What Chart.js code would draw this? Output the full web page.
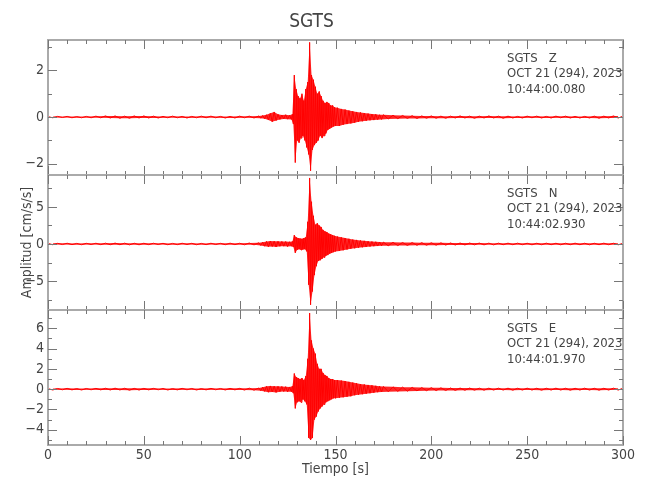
<!DOCTYPE html>
<html>
<head>
<meta charset="utf-8">
<script src="https://cdn.jsdelivr.net/npm/chart.js@4.4.0/dist/chart.umd.min.js"></script>
<style>
  body { margin: 0; background: #fff; overflow: hidden; }
  #wrap { position: relative; width: 650px; height: 500px; }
  canvas { position: absolute; left: 0; }
</style>
</head>
<body>
<div id="wrap">
  <canvas id="chartZ" width="650" height="180" style="top:0px"></canvas>
  <canvas id="chartN" width="650" height="145" style="top:170px"></canvas>
  <canvas id="chartE" width="650" height="195" style="top:305px"></canvas>
</div>
<script>
// tiempo [s] (muestreo mas denso alrededor del evento)
const tiempo = [
  0, 2.5, 5, 7.5, 10, 12.5, 15, 17.5, 20, 22.5,
  25, 27.5, 30, 32.5, 35, 37.5, 40, 42.5, 45, 47.5,
  50, 52.5, 55, 57.5, 60, 62.5, 65, 67.5, 70, 72.5,
  75, 77.5, 80, 82.5, 85, 87.5, 90, 92.5, 95, 97.5,
  100, 102.5, 105, 107.5, 110,
  111, 112, 113, 114, 115, 116, 117, 118, 119, 120, 121, 122, 123, 124, 125, 126,
  127, 127.5, 128, 128.5, 129, 129.5, 130, 130.5, 131, 131.5,
  132, 132.5, 133, 133.5, 134, 134.5, 135, 135.5, 136, 136.5,
  137, 137.5, 138, 138.5, 139, 139.5, 140, 140.5, 141, 141.5,
  142, 142.5, 143, 143.5, 144, 144.5, 145, 145.5, 146, 146.5,
  147, 147.5, 148, 148.5, 149, 149.5, 150,
  151, 152, 153, 154, 155, 156, 157, 158, 159, 160, 161, 162, 163,
  164, 165, 166, 167, 168, 169, 170, 171, 172, 173, 174, 175,
  177.5, 180, 182.5, 185, 187.5, 190, 192.5, 195, 197.5, 200,
  202.5, 205, 207.5, 210, 212.5, 215, 217.5, 220, 222.5, 225,
  227.5, 230, 232.5, 235, 237.5, 240, 242.5, 245, 247.5, 250,
  252.5, 255, 257.5, 260, 262.5, 265, 267.5, 270, 272.5, 275,
  277.5, 280, 282.5, 285, 287.5, 290, 292.5, 295, 297.5, 300,
];

// componente Z [cm/s/s]
const ampZ = [
  0.02, -0.03, 0.03, -0.02, 0.03, -0.03, 0.02, -0.03, 0.03, -0.03,
  0.04, -0.03, 0.05, -0.04, 0.05, -0.05, 0.04, -0.05, 0.05, -0.04,
  0.05, -0.04, 0.04, -0.04, 0.03, -0.03, 0.04, -0.03, 0.03, -0.04,
  0.03, -0.03, 0.04, -0.03, 0.04, -0.03, 0.03, -0.04, 0.03, -0.04,
  0.04, -0.03, 0.04, -0.04, 0.05,
  -0.05, 0.07, -0.07, 0.1, -0.12, 0.16, -0.2, 0.22, -0.15, 0.12, -0.1, 0.09, -0.08, 0.1, -0.09, 0.08,
  -0.1, 0.12, -0.3, 1.8, -1.95, 1.2, -1.0, 0.9, -1.1, 0.8,
  -0.9, 1.0, -0.8, 0.7, -1.0, 1.2, -1.3, 1.5, -1.6, 3.2,
  -2.3, 1.8, -1.4, 1.6, -1.2, 1.3, -1.1, 1.0, -1.0, 1.1,
  -0.8, 0.9, -0.9, 0.7, -0.8, 0.6, -0.7, 0.65, -0.55, 0.6,
  -0.5, 0.5, -0.45, 0.5, -0.4, 0.42, -0.38,
  0.4, -0.38, 0.35, -0.33, 0.32, -0.3, 0.28, -0.27, 0.25, -0.24, 0.22, -0.2, 0.2,
  -0.18, 0.17, -0.16, 0.15, -0.14, 0.13, -0.13, 0.12, -0.11, 0.1, -0.1, 0.1,
  -0.08, 0.08, -0.07, 0.07, -0.06, 0.06, -0.06, 0.05, -0.05, 0.05,
  -0.05, 0.04, -0.05, 0.04, -0.04, 0.05, -0.04, 0.04, -0.05, 0.04,
  -0.04, 0.05, -0.04, 0.04, -0.05, 0.04, -0.04, 0.03, -0.04, 0.04,
  -0.03, 0.04, -0.04, 0.03, -0.04, 0.04, -0.03, 0.04, -0.04, 0.03,
  -0.04, 0.03, -0.04, 0.04, -0.05, 0.04, -0.04, 0.05, -0.04, 0.04,
];

// componente N [cm/s/s]
const ampN = [
  0.08, -0.1, 0.09, -0.08, 0.1, -0.09, 0.08, -0.1, 0.09, -0.08,
  0.1, -0.09, 0.11, -0.1, 0.12, -0.1, 0.11, -0.12, 0.1, -0.11,
  0.1, -0.09, 0.1, -0.08, 0.09, -0.1, 0.08, -0.09, 0.1, -0.08,
  0.09, -0.1, 0.08, -0.09, 0.1, -0.08, 0.09, -0.1, 0.11, -0.09,
  0.1, -0.11, 0.13, -0.12, 0.16,
  -0.2, 0.25, -0.3, 0.35, -0.38, 0.4, -0.35, 0.38, -0.4, 0.36, -0.32, 0.35, -0.3, 0.33, -0.35, 0.3,
  -0.3, 0.35, -0.4, 1.2, -1.2, 0.9, -0.8, 0.8, -0.7, 0.75,
  -0.8, 0.7, -0.75, 0.8, -0.7, 0.9, -1.0, 3.0, -5.5, 8.9,
  -8.2, 5.7, -6.4, 3.8, -4.2, 2.6, -3.0, 2.8, -2.3, 2.5,
  -2.2, 2.3, -2.0, 1.9, -1.8, 1.7, -1.6, 1.6, -1.5, 1.4,
  -1.3, 1.3, -1.2, 1.2, -1.1, 1.1, -1.0,
  1.0, -0.95, 0.9, -0.85, 0.8, -0.75, 0.7, -0.65, 0.6, -0.58, 0.55, -0.5, 0.48,
  -0.45, 0.42, -0.4, 0.38, -0.35, 0.33, -0.3, 0.3, -0.28, 0.27, -0.25, 0.25,
  -0.24, 0.22, -0.22, 0.2, -0.2, 0.19, -0.18, 0.18, -0.17, 0.16,
  -0.16, 0.15, -0.15, 0.14, -0.14, 0.13, -0.13, 0.13, -0.12, 0.12,
  -0.12, 0.11, -0.12, 0.11, -0.1, 0.11, -0.1, 0.11, -0.1, 0.1,
  -0.11, 0.1, -0.1, 0.11, -0.1, 0.1, -0.11, 0.1, -0.1, 0.11,
  -0.1, 0.1, -0.11, 0.1, -0.1, 0.11, -0.1, 0.1, -0.11, 0.1,
];

// componente E [cm/s/s]
const ampE = [
  0.06, -0.08, 0.07, -0.06, 0.08, -0.07, 0.06, -0.08, 0.07, -0.06,
  0.08, -0.07, 0.09, -0.08, 0.1, -0.08, 0.09, -0.1, 0.08, -0.09,
  0.08, -0.07, 0.08, -0.06, 0.07, -0.08, 0.06, -0.07, 0.08, -0.06,
  0.07, -0.08, 0.06, -0.07, 0.08, -0.06, 0.07, -0.08, 0.08, -0.07,
  0.08, -0.09, 0.1, -0.1, 0.12,
  -0.15, 0.2, -0.22, 0.28, -0.3, 0.32, -0.28, 0.3, -0.32, 0.28, -0.25, 0.27, -0.24, 0.25, -0.26, 0.22,
  -0.25, 0.3, -0.4, 1.55, -1.9, 1.2, -1.3, 1.1, -1.2, 1.0,
  -1.3, 1.1, -1.0, 0.9, -1.2, 1.3, -1.5, 3.0, -4.8, 7.5,
  -5.0, 4.8, -4.8, 4.0, -3.0, 3.5, -2.7, 2.5, -2.2, 2.0,
  -1.9, 2.0, -1.7, 1.6, -1.5, 1.4, -1.3, 1.3, -1.2, 1.1,
  -1.1, 1.0, -1.0, 1.0, -0.9, 0.9, -0.9,
  0.9, -0.85, 0.85, -0.8, 0.8, -0.75, 0.72, -0.7, 0.65, -0.6, 0.58, -0.55, 0.5,
  -0.5, 0.47, -0.45, 0.42, -0.4, 0.38, -0.35, 0.33, -0.3, 0.3, -0.28, 0.27,
  -0.25, 0.23, -0.22, 0.2, -0.2, 0.18, -0.17, 0.16, -0.15, 0.15,
  -0.14, 0.13, -0.13, 0.12, -0.12, 0.11, -0.11, 0.11, -0.1, 0.1,
  -0.1, 0.1, -0.09, 0.1, -0.09, 0.1, -0.1, 0.09, -0.09, 0.1,
  -0.09, 0.09, -0.1, 0.09, -0.09, 0.1, -0.09, 0.09, -0.1, 0.09,
  -0.09, 0.1, -0.09, 0.09, -0.1, 0.09, -0.09, 0.1, -0.09, 0.1,
];

const textoZ = ["SGTS   Z", "OCT 21 (294), 2023", "10:44:00.080"];
const textoN = ["SGTS   N", "OCT 21 (294), 2023", "10:44:02.930"];
const textoE = ["SGTS   E", "OCT 21 (294), 2023", "10:44:01.970"];

const FUENTE = "'Liberation Sans Narrow', 'DejaVu Sans Condensed', sans-serif";
const GRIS = "#444";
const ROJO = "#ff0000";

// marco, ticks hacia adentro y rotulos de estacion
const marco = {
  id: "marco",
  afterDraw(chart, args, opts) {
    const {ctx, chartArea: a, scales: {x, y}} = chart;
    ctx.save();
    ctx.strokeStyle = "#aaa";
    ctx.lineWidth = 2;
    ctx.strokeRect(a.left, a.top, a.width, a.height);

    ctx.strokeStyle = "#777";
    ctx.lineWidth = 1;
    ctx.beginPath();
    for (let v = 0; v <= 300; v += 10) {
      const px = Math.round(x.getPixelForValue(v)) + 0.5;
      const len = v % 50 === 0 ? 9 : 4;
      ctx.moveTo(px, a.top); ctx.lineTo(px, a.top + len);
      ctx.moveTo(px, a.bottom); ctx.lineTo(px, a.bottom - len);
    }
    const inicio = Math.ceil(y.min / opts.menor) * opts.menor;
    for (let v = inicio; v <= y.max; v += opts.menor) {
      const py = Math.round(y.getPixelForValue(v)) + 0.5;
      const mayor = Math.abs(v / opts.paso - Math.round(v / opts.paso)) < 1e-6;
      const len = mayor ? 9 : 4;
      ctx.moveTo(a.left, py); ctx.lineTo(a.left + len, py);
      ctx.moveTo(a.right, py); ctx.lineTo(a.right - len, py);
    }
    ctx.stroke();

    ctx.fillStyle = GRIS;
    ctx.font = "13px " + FUENTE;
    ctx.textBaseline = "middle";
    ctx.textAlign = "left";
    opts.texto.forEach((t, i) => ctx.fillText(t, 507, a.top + 18.5 + i * 15.5));
    ctx.restore();
  },
};

function ejeY(min, max, paso, extra) {
  return Object.assign({
    type: "linear",
    min: min,
    max: max,
    afterFit: (axis) => {
      axis.width = 48;
      axis.paddingTop = 0;
      axis.paddingBottom = 0;
    },
    grid: {display: false, drawTicks: false},
    border: {display: false},
    ticks: {
      stepSize: paso,
      includeBounds: false,
      padding: 4,
      color: GRIS,
      font: {family: FUENTE, size: 14},
      callback: (v) => String(v).replace("-", "\u2212"),
    },
  }, extra || {});
}

function crear(id, valores, y, texto, paso, menor, ejeX, titulo, pad) {
  const puntos = tiempo.map((t, i) => ({x: t, y: valores[i]}));
  return new Chart(document.getElementById(id), {
    type: "line",
    data: {
      datasets: [
        {
          // traza
          data: puntos,
          borderColor: ROJO,
          borderWidth: 1,
          pointRadius: 0,
          tension: 0,
          fill: false,
        },
        {
          // envolvente superior (picos positivos)
          data: puntos.filter((p) => p.y > 0),
          borderWidth: 0,
          borderColor: "rgba(0,0,0,0)",
          pointRadius: 0,
          tension: 0,
          fill: false,
        },
        {
          // envolvente inferior, relleno hasta la superior
          data: puntos.filter((p) => p.y < 0),
          borderWidth: 0,
          borderColor: "rgba(0,0,0,0)",
          backgroundColor: "rgba(255, 0, 0, 0.85)",
          pointRadius: 0,
          tension: 0,
          fill: "-1",
        },
      ],
    },
    options: {
      responsive: false,
      animation: false,
      events: [],
      layout: {padding: pad, autoPadding: false},
      scales: {x: ejeX, y: y},
      plugins: {
        legend: {display: false},
        tooltip: {enabled: false},
        title: titulo,
        marco: {texto: texto, paso: paso, menor: menor},
      },
    },
    plugins: [marco],
  });
}

const xOculto = {type: "linear", min: 0, max: 300, display: false};

const chartZ = crear("chartZ", ampZ, ejeY(-2.48, 3.3, 2), textoZ, 2, 1, xOculto,
  {display: true, text: "SGTS", color: GRIS, font: {family: FUENTE, size: 19, weight: "normal", lineHeight: 1},
   padding: {top: 12.5, bottom: 8.5}},
  {left: 0, right: 27, top: 0, bottom: 5});

const chartN = crear("chartN", ampN,
  ejeY(-8.9, 9.3, 5, {title: {display: true, text: "Amplitud [cm/s/s]", color: GRIS,
    font: {family: FUENTE, size: 14}, padding: {top: 19, bottom: 0}}}),
  textoN, 5, 2.5, xOculto, {display: false},
  {left: 0, right: 27, top: 5, bottom: 5});

const chartE = crear("chartE", ampE, ejeY(-5.5, 7.8, 2), textoE, 2, 1,
  {
    type: "linear", min: 0, max: 300,
    afterFit: (axis) => { axis.height = 55; },
    grid: {display: false, drawTicks: false},
    border: {display: false},
    ticks: {stepSize: 50, padding: 2, color: GRIS, maxRotation: 0, font: {family: FUENTE, size: 14}},
    title: {display: true, text: "Tiempo [s]", color: GRIS, font: {family: FUENTE, size: 14},
      padding: {top: 0, bottom: 22}},
  },
  {display: false},
  {left: 0, right: 27, top: 5, bottom: 0});
</script>
</body>
</html>
